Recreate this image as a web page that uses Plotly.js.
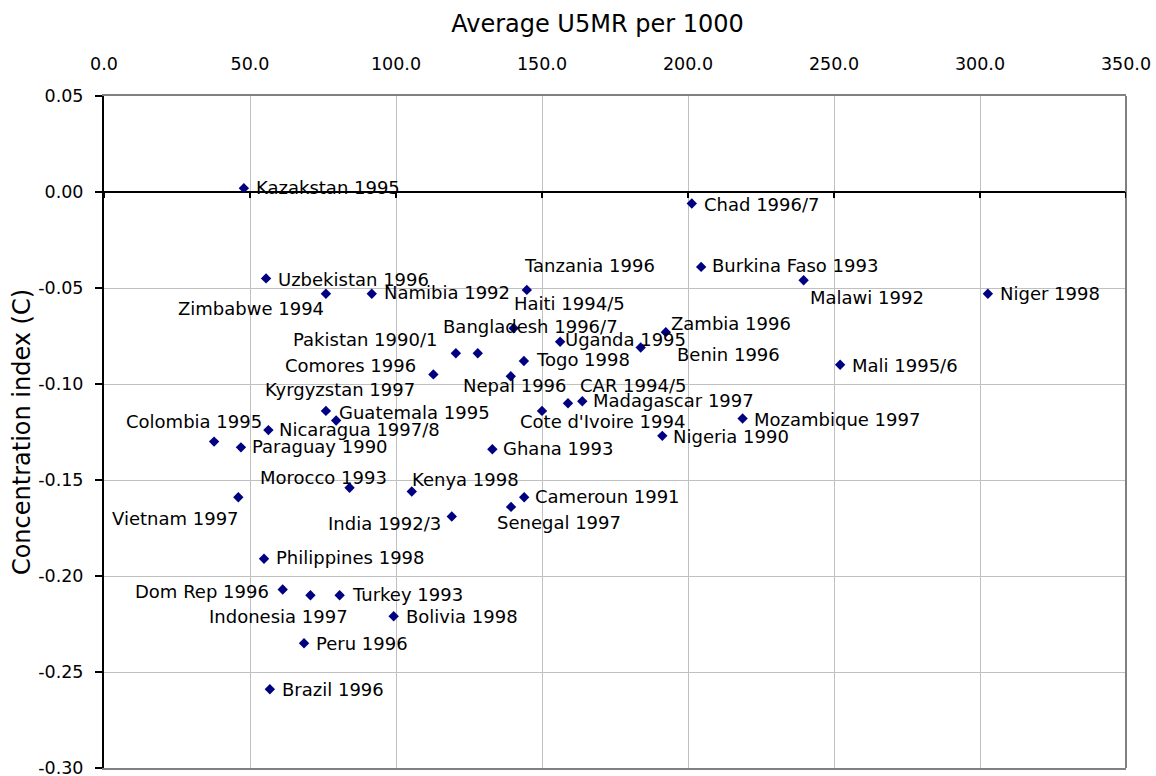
<!DOCTYPE html>
<html>
<head>
<meta charset="utf-8">
<script src="https://cdn.plot.ly/plotly-3.0.1.min.js"></script>
<style>html,body{margin:0;padding:0;background:#fff;}#chart{width:1156px;height:776px;}</style>
</head>
<body>
<div id="chart"></div>
<script>
// ---- data ----
var countries = ["Kazakstan 1995","Chad 1996/7","Uzbekistan 1996","Zimbabwe 1994","Namibia 1992",
  "Tanzania 1996","Burkina Faso 1993","Malawi 1992","Niger 1998","Haiti 1994/5",
  "Pakistan 1990/1","Bangladesh 1996/7","Comores 1996","Zambia 1996","Uganda 1995",
  "Benin 1996","Togo 1998","Nepal 1996","CAR 1994/5","Madagascar 1997",
  "Cote d'Ivoire 1994","Mozambique 1997","Nigeria 1990","Mali 1995/6","Kyrgyzstan 1997",
  "Guatemala 1995","Colombia 1995","Nicaragua 1997/8","Paraguay 1990","Ghana 1993",
  "Morocco 1993","Kenya 1998","Cameroun 1991","Senegal 1997","India 1992/3",
  "Vietnam 1997","Philippines 1998","Dom Rep 1996","Indonesia 1997","Turkey 1993",
  "Bolivia 1998","Peru 1996","Brazil 1996"];
var u5mr = [47.9,201.3,55.5,76.0,91.7,
  144.8,204.5,239.6,302.7,140.3,
  120.5,128.0,112.8,192.4,156.2,
  183.8,143.8,139.3,158.9,163.8,
  150.0,218.7,191.2,252.1,76.0,
  79.5,37.7,56.3,46.9,133.0,
  84.1,105.4,143.9,139.4,119.1,
  46.0,54.8,61.2,70.7,80.7,
  99.2,68.5,56.8];
var concIndex = [0.002,-0.006,-0.045,-0.053,-0.053,
  -0.051,-0.039,-0.046,-0.053,-0.071,
  -0.084,-0.084,-0.095,-0.073,-0.078,
  -0.081,-0.088,-0.096,-0.110,-0.109,
  -0.114,-0.118,-0.127,-0.090,-0.114,
  -0.119,-0.130,-0.124,-0.133,-0.134,
  -0.154,-0.156,-0.159,-0.164,-0.169,
  -0.159,-0.191,-0.207,-0.210,-0.210,
  -0.221,-0.235,-0.259];
var xTicks = [0,50,100,150,200,250,300,350];
var xTickText = ["0.0","50.0","100.0","150.0","200.0","250.0","300.0","350.0"];
var yTicks = [0.05,0,-0.05,-0.10,-0.15,-0.20,-0.25,-0.30];
var yTickText = ["0.05","0.00","-0.05","-0.10","-0.15","-0.20","-0.25","-0.30"];

// ---- label placement (layout only): [anchor, x shift px, y shift px] ----
var labelPlacement = [
  ["left",12,1],["left",12,-1],["left",12,-1],["right",-2,-15],["left",12,1],
  ["left",-3,24],["left",11,1],["left",6,-17],["left",12,0],["left",0,25],
  ["right",-19,14],["left",-35,27],["right",-17,9],["left",5,9],["left",5,2],
  ["left",36,-7],["left",12,1],["left",-48,-9],["left",12,18],["left",11,1],
  ["left",-22,-11],["left",11,-1],["left",11,-1],["left",12,-1],["left",-61,21],
  ["left",3,8],["right",48,20],["left",11,1],["left",11,1],["left",11,1],
  ["right",37,10],["left",0,12],["left",11,1],["left",-14,-16],["right",-11,-7],
  ["right",1,-21],["left",12,1],["right",-14,-2],["right",38,-21],["left",12,1],
  ["left",12,0],["left",12,0],["left",12,0]
];

var FONT = "DejaVu Sans";

var trace = {
  type: "scatter", mode: "markers",
  x: u5mr, y: concIndex, text: countries,
  marker: {symbol: "diamond", size: 8, color: "#000080"},
  hoverinfo: "text", showlegend: false
};

var annotations = countries.map(function (c, i) {
  var p = labelPlacement[i];
  return {
    x: u5mr[i], y: concIndex[i], xref: "x", yref: "y",
    text: c, showarrow: false,
    xanchor: p[0], yanchor: "middle",
    xshift: p[1], yshift: p[2],
    borderpad: 0, borderwidth: 0,
    font: {family: FONT, size: 18, color: "#000"}
  };
});

var shapes = [
  {type: "line", xref: "x domain", yref: "y domain", x0: 1, x1: 1, y0: 0, y1: 1,
   line: {color: "#808080", width: 2}, layer: "above"}
];
xTicks.forEach(function (v) {
  shapes.push({type: "line", xref: "x", yref: "y", x0: v, x1: v,
    ysizemode: "pixel", yanchor: 0, y0: 0, y1: -6,
    line: {color: "#000", width: 2}, layer: "above"});
});

var layout = {
  width: 1156, height: 776,
  margin: {l: 104, r: 30, t: 96, b: 8, pad: 0},
  paper_bgcolor: "#fff", plot_bgcolor: "#fff",
  font: {family: FONT, size: 17.5, color: "#000"},
  title: {text: "Average U5MR per 1000", font: {family: FONT, size: 24, color: "#000"},
          xref: "container", x: 597.5 / 1156, xanchor: "center",
          yref: "container", y: 1 - 24 / 776, yanchor: "middle"},
  xaxis: {
    range: [0, 350], autorange: false, side: "top",
    tickmode: "array", tickvals: xTicks, ticktext: xTickText,
    ticks: "", ticklabelstandoff: 17, ticklabeloverflow: "allow",
    showgrid: true, gridcolor: "#c0c0c0", gridwidth: 1,
    zeroline: false,
    showline: true, linecolor: "#808080", linewidth: 2, mirror: true,
    tickfont: {family: FONT, size: 17.5, color: "#000"},
    fixedrange: true
  },
  yaxis: {
    range: [-0.30, 0.05], autorange: false,
    tickmode: "array", tickvals: yTicks, ticktext: yTickText,
    ticks: "outside", ticklen: 7, tickwidth: 2, tickcolor: "#000",
    ticklabelstandoff: 8, ticklabeloverflow: "allow",
    showgrid: true, gridcolor: "#c0c0c0", gridwidth: 1,
    zeroline: true, zerolinecolor: "#000", zerolinewidth: 2,
    showline: true, linecolor: "#000", linewidth: 2,
    tickfont: {family: FONT, size: 17.5, color: "#000"},
    title: {text: "Concentration index (C)", font: {family: FONT, size: 24, color: "#000"}, standoff: 1},
    fixedrange: true
  },
  annotations: annotations,
  shapes: shapes
};

Plotly.newPlot("chart", [trace], layout, {displayModeBar: false, staticPlot: true});
</script>
</body>
</html>
